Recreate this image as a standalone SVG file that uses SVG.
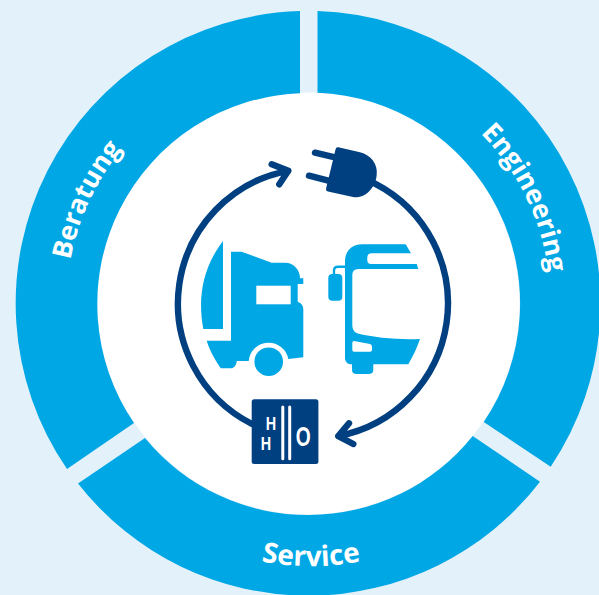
<svg xmlns="http://www.w3.org/2000/svg" width="599" height="595" viewBox="0 0 599 595">
<style>
.seg{fill:#00a7e5}
.veh{fill:#00a7e5}
.navy{fill:#003f80}
.wh{fill:#fff}
.conn{fill:none;stroke:#003f80;stroke-width:6.4;stroke-linecap:round;stroke-linejoin:round}
.lab{font-family:"Open Sans",sans-serif;font-weight:700;font-size:26.7px;fill:#fff}
.h2o{font-family:"Liberation Sans",sans-serif;font-weight:700;fill:#fff;text-anchor:middle}
</style>
<defs>
<path id="pB" d="M89.2 405.8A242 242 0 0 1 245.9 69.7"/>
<path id="pE" d="M367 68.7A242 242 0 0 1 529.6 401.9"/>
<path id="pS" d="M123.2 486.8A262 262 0 0 0 498.8 486.8"/>
</defs>
<rect width="599" height="595" fill="#e3f1fb"/>
<g id="ring-white"><circle cx="308.5" cy="303.5" r="211" class="wh"/></g>
<g id="beratung">
<path class="seg" d="M300 11.1A292.5 292.5 0 0 0 67 469L134 423A211 211 0 0 1 300 93.2Z"/>
<text class="lab"><textPath href="#pB" startOffset="50%" text-anchor="middle">Beratung</textPath></text>
</g>
<g id="engineering">
<path class="seg" d="M317.5 11.1A292.5 292.5 0 0 1 550.7 466.7L483.7 422A211 211 0 0 0 317.5 92.7Z"/>
<text class="lab"><textPath href="#pE" startOffset="50%" text-anchor="middle">Engineering</textPath></text>
</g>
<g id="service">
<path class="seg" d="M78 483.5A292.5 292.5 0 0 0 540 481.7L472.7 436A211 211 0 0 1 145 438Z"/>
<text class="lab" style="font-size:28px"><textPath href="#pS" startOffset="50%" text-anchor="middle">Service</textPath></text>
</g>
<g id="connectors">
<path class="conn" d="M252 424A135 135 0 0 1 288.3 170.8M271.7 164.3L288.3 170.8L279.3 184.3"/>
<path class="conn" d="M375 183.6A135 135 0 0 1 338.3 436.1M349 423.3L338.3 436.1L353.3 444"/>
</g>
<g id="plug">
<path class="navy" d="M338.3 147.3L360 152.3C371 155 378 164 376.7 175C376 182 373.5 186 371.7 188.3C367 194.5 361 198.5 353 197L328 191.5Q325.5 191 326.2 188L335.5 149.5Q336 146.8 338.3 147.3Z"/>
<path class="conn" d="M315 152.7L335 157.3M309 175.7L328.3 180.7"/>
</g>
<g id="truck">
<path class="veh" d="M223 241V329H203.3C198 300 201 270 223 241Z"/>
<path class="veh" d="M231 251.7H241.7L271.7 262.7H285C294 262.7 300 270 300 278.3H303.3V284H297.7V301.7Q303.3 304 303.3 309V357.3L288.3 359A20 20 0 0 0 248.7 361H236.7C236.5 366 233 368.3 231.7 368.3H220.7C214 358 209.5 350 206.7 340.7H231Z"/>
<rect class="wh" x="256.3" y="285.7" width="34.4" height="18.6"/>
<circle class="veh" cx="268.7" cy="361.7" r="14.3"/>
</g>
<g id="bus">
<path class="veh" d="M345 261.7C345 251 352 244.3 362 244.3H405.7L411 253.3H371.7Q367.3 253.3 367.3 257.5V260Q367.3 264 371 264H416.7L418.3 269H358.3Q352.3 269 352.3 275V325Q352.3 331 357 333.3C375 338 400 340 420 339C417 348 413 356 408.3 364.3H373.3V370Q373.3 374 368.3 374H356.7Q352 374 352 370V364.3H350Q345 363 345 358.3Z"/>
<path class="wh" d="M352.3 343Q352.3 341 354 341L370 344Q372 344.5 372 347V350Q372 351.7 370 351.7H354Q352.3 351.7 352.3 350Z"/>
<rect class="veh" x="328.3" y="274" width="14" height="26.7" rx="4"/>
<path d="M334 275V270.5Q334 266.8 338 266.8H346" fill="none" stroke="#00a7e5" stroke-width="2.4"/>
</g>
<g id="h2o">
<rect class="navy" x="251.7" y="399.3" width="66.7" height="64.7" rx="2.5"/>
<path d="M282.8 407V458.7M289.7 407V458.7" fill="none" stroke="#fff" stroke-width="3" stroke-linecap="round"/>
<text class="h2o" transform="translate(271 429.6) scale(.8 1)" font-size="18">H</text>
<text class="h2o" transform="translate(266 450.2) scale(.8 1)" font-size="18">H</text>
<text class="h2o" transform="translate(303.3 446) scale(.7 1)" font-size="27.5">O</text>
</g>
</svg>
